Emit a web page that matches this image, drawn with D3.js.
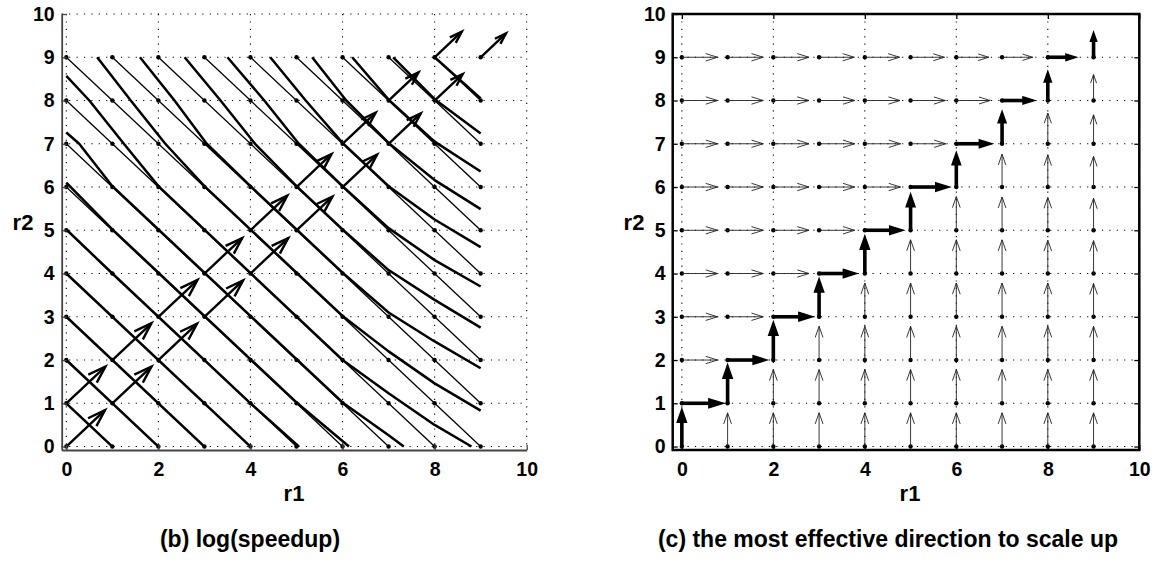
<!DOCTYPE html>
<html lang="en">
<head>
<meta charset="UTF-8">
<title>log(speedup) and scale-up direction</title>
<script src="https://cdn.jsdelivr.net/npm/d3@7"></script>
<style>
  body { margin: 0; background: #fff; }
  svg text { font-family: "Liberation Sans", Arial, sans-serif; font-weight: bold; fill: #000; }
</style>
</head>
<body>
<svg id="fig" width="1153" height="561"></svg>
<script>
// resource levels where the grid points sit
let levels = [0, 1, 2, 3, 4, 5, 6, 7, 8, 9];
let xTicks = [0, 2, 4, 6, 8, 10];
let yTicks = [0, 1, 2, 3, 4, 5, 6, 7, 8, 9, 10];

// thin lines: r1 + r2 = k
let isoCost = [1, 2, 3, 4, 5, 6, 7, 8, 9, 10, 11, 12, 13, 14, 15, 16, 17];

// thick lines: log(speedup) contours
let contours = [
  [[0, 1], [1, 0]],
  [[0, 2], [2, 0]],
  [[0, 3], [3, 0]],
  [[0, 4], [4, 0]],
  [[0, 5.02], [1, 4.0], [4, 1.0], [5.05, 0]],
  [[0, 6.1], [1, 5.02], [5, 1.02], [6.14, 0]],
  [[0, 7.26], [0.28, 7], [1, 6.02], [6, 1.02], [7, 0.26], [7.33, 0]],
  [[0, 8.57], [0.5, 8], [1.25, 7], [2, 6.02], [6, 2.0], [7, 1.23], [8, 0.5], [8.8, 0]],
  [[0.67, 9], [1.4, 8], [2.15, 7], [3, 6.02], [6, 3.02], [7, 2.2], [8, 1.46], [9, 0.83]],
  [[1.6, 9], [2.35, 8], [3.05, 7], [4, 6.02], [6, 4.02], [7, 3.1], [8, 2.43], [9, 1.81]],
  [[2.57, 9], [3.35, 8], [4.1, 7], [5, 6.02], [6, 5.02], [7, 4.08], [8, 3.39], [9, 2.75]],
  [[3.5, 9], [4.3, 8], [5.05, 7], [6, 6.02], [7, 5.05], [8, 4.31], [9, 3.7]],
  [[4.43, 9], [5.2, 8], [6, 7.02], [7, 6.02], [8, 5.25], [9, 4.61]],
  [[5.34, 9], [6.08, 8], [7, 7.02], [8, 6.16], [9, 5.49]],
  [[6.21, 9], [7, 8.02], [8, 7.05], [9, 6.36]],
  [[7.1, 9], [8, 8.03], [9, 7.24]],
  [[8, 9], [9, 8.05]]
];

// the scale-up path (bold arrows)
let stepR1 = [0, 0, 1, 1, 2, 2, 3, 3, 4, 4, 5, 5, 6, 6, 7, 7, 8, 8, 9];
let stepR2 = [0, 1, 1, 2, 2, 3, 3, 4, 4, 5, 5, 6, 6, 7, 7, 8, 8, 9, 9];
let stepDir = ["up", "right", "up", "right", "up", "right", "up", "right", "up", "right",
               "up", "right", "up", "right", "up", "right", "up", "right", "up"];
// arrow lengths in (b) (equal r1 and r2 parts) and in (c)
let diagLen = [0.84, 0.85, 0.85, 0.85, 0.84, 0.85, 0.84, 0.82, 0.82, 0.8,
               0.78, 0.76, 0.75, 0.72, 0.7, 0.65, 0.61, 0.59, 0.55];
let stepLen = [0.85, 0.89, 0.87, 0.84, 0.86, 0.84, 0.86, 0.8, 0.85, 0.82,
               0.82, 0.83, 0.78, 0.76, 0.73, 0.69, 0.65, 0.6, 0.56];
// thin arrow length in (c), by r1 + r2
let thinLen = [0.78, 0.78, 0.78, 0.78, 0.78, 0.78, 0.78, 0.78, 0.78, 0.78,
               0.78, 0.78, 0.77, 0.76, 0.74, 0.71, 0.67, 0.6, 0.55];

let svg = d3.select("#fig");
svg.append("rect").attr("width", 1153).attr("height", 561).attr("fill", "#fff");

// quiver-style arrow: shaft plus two barbs (MATLAB head size 0.33)
function arrowGeom(x, y, u, v, sx, sy) {
    let a = 0.33, b = 0.33;
    let tx = x + u, ty = y + v;
    return {
        base: [sx(x), sy(y)],
        tip: [sx(tx), sy(ty)],
        neck: [sx(tx - a * u), sy(ty - a * v)],
        h1: [sx(tx - a * (u + b * v)), sy(ty - a * (v - b * u))],
        h2: [sx(tx - a * (u - b * v)), sy(ty - a * (v + b * u))]
    };
}

function drawGrid(g, sx, sy) {
    g.selectAll(".gx").data(xTicks).join("line")
        .attr("x1", d => sx(d)).attr("x2", d => sx(d))
        .attr("y1", sy(10)).attr("y2", sy.range()[0])
        .attr("stroke", "#000").attr("stroke-width", 1.1).attr("stroke-dasharray", "1.2,6.2");
    g.selectAll(".gy").data(yTicks).join("line")
        .attr("y1", d => sy(d)).attr("y2", d => sy(d))
        .attr("x1", sx.range()[0]).attr("x2", sx(10))
        .attr("stroke", "#000").attr("stroke-width", 1.1).attr("stroke-dasharray", "1.2,6.2");
}

function drawAxes(g, sx, sy, color, width) {
    let ax = g.append("g").attr("transform", `translate(0,${sy.range()[0]})`)
        .call(d3.axisBottom(sx).tickValues(xTicks).tickSize(-5).tickSizeOuter(0).tickPadding(12));
    let ay = g.append("g").attr("transform", `translate(${sx.range()[0]},0)`)
        .call(d3.axisLeft(sy).tickValues(yTicks).tickSize(-5).tickSizeOuter(0).tickPadding(7));
    [ax, ay].forEach(a => {
        a.attr("font-family", null).attr("font-size", null);
        a.select(".domain").attr("stroke", color).attr("stroke-width", width);
        a.selectAll(".tick line").attr("stroke", color).attr("stroke-width", 1.3);
        a.selectAll(".tick text").style("font-size", "19.5px");
    });
}

function dots(g, sx, sy) {
    let pts = [];
    levels.forEach(i => levels.forEach(j => pts.push([i, j])));
    g.selectAll(".dot").data(pts).join("circle")
        .attr("cx", d => sx(d[0])).attr("cy", d => sy(d[1])).attr("r", 2.2).attr("fill", "#000");
}

// ---------------- (b) log(speedup) ----------------
let xL = d3.scaleLinear().domain([-0.1, 10]).range([61.7, 526.7]);
let yL = d3.scaleLinear().domain([-0.08, 10]).range([450, 14]);
let gL = svg.append("g");
drawGrid(gL, xL, yL);

let lineL = d3.line().x(d => xL(d[0])).y(d => yL(d[1]));
gL.selectAll(".iso").data(isoCost).join("path")
    .attr("d", k => lineL([[Math.max(0, k - 9), Math.min(k, 9)], [Math.min(k, 9), Math.max(0, k - 9)]]))
    .attr("fill", "none").attr("stroke", "#000").attr("stroke-width", 1.3);
gL.selectAll(".cont").data(contours).join("path")
    .attr("d", lineL)
    .attr("fill", "none").attr("stroke", "#000").attr("stroke-width", 2.5)
    .attr("stroke-linejoin", "round");
dots(gL, xL, yL);

let diag = stepR1.map((r1, i) => arrowGeom(r1, stepR2[i], diagLen[i], diagLen[i], xL, yL));
gL.selectAll(".qs").data(diag).join("line")
    .attr("x1", d => d.base[0]).attr("y1", d => d.base[1])
    .attr("x2", d => d.tip[0]).attr("y2", d => d.tip[1])
    .attr("stroke", "#000").attr("stroke-width", 2.4);
gL.selectAll(".qh").data(diag).join("polyline")
    .attr("points", d => [d.h1, d.tip, d.h2].map(p => p.join(",")).join(" "))
    .attr("fill", "none").attr("stroke", "#000").attr("stroke-width", 2.4)
    .attr("stroke-linejoin", "miter");

drawAxes(gL, xL, yL, "#444", 1.8);

// ---------------- (c) most effective direction ----------------
let xR = d3.scaleLinear().domain([-0.2, 10]).range([672.7, 1139.3]);
let yR = d3.scaleLinear().domain([-0.08, 10]).range([450, 14]);
let gR = svg.append("g");
drawGrid(gR, xR, yR);
dots(gR, xR, yR);

let onPath = new Set(stepR1.map((r1, i) => r1 + "," + stepR2[i]));
let thin = [];
levels.forEach(i => levels.forEach(j => {
    if (onPath.has(i + "," + j)) return;
    let L = thinLen[i + j];
    thin.push(j > i ? arrowGeom(i, j, L, 0, xR, yR) : arrowGeom(i, j, 0, L, xR, yR));
}));
gR.selectAll(".ts").data(thin).join("line")
    .attr("x1", d => d.base[0]).attr("y1", d => d.base[1])
    .attr("x2", d => d.tip[0]).attr("y2", d => d.tip[1])
    .attr("stroke", "#222").attr("stroke-width", 0.9);
gR.selectAll(".th").data(thin).join("polyline")
    .attr("points", d => [d.h1, d.tip, d.h2].map(p => p.join(",")).join(" "))
    .attr("fill", "none").attr("stroke", "#222").attr("stroke-width", 0.9);

let bold = stepR1.map((r1, i) => stepDir[i] === "up"
    ? arrowGeom(r1, stepR2[i], 0, stepLen[i], xR, yR)
    : arrowGeom(r1, stepR2[i], stepLen[i], 0, xR, yR));
gR.selectAll(".bs").data(bold).join("line")
    .attr("x1", d => d.base[0]).attr("y1", d => d.base[1])
    .attr("x2", d => d.neck[0]).attr("y2", d => d.neck[1])
    .attr("stroke", "#000").attr("stroke-width", 3.6);
gR.selectAll(".bh").data(bold).join("polygon")
    .attr("points", d => [d.h1, d.tip, d.h2].map(p => p.join(",")).join(" "))
    .attr("fill", "#000").attr("stroke", "#000").attr("stroke-width", 2)
    .attr("stroke-linejoin", "miter");

drawAxes(gR, xR, yR, "#000", 2.5);
gR.append("g").attr("transform", `translate(0,${yR(10)})`)
    .call(d3.axisTop(xR).tickValues(xTicks).tickSize(-5).tickSizeOuter(0).tickFormat(""))
    .call(a => a.selectAll("line").attr("stroke-width", 1.3));
gR.append("g").attr("transform", `translate(${xR(10)},0)`)
    .call(d3.axisRight(yR).tickValues(yTicks).tickSize(-5).tickSizeOuter(0).tickFormat(""))
    .call(a => a.selectAll("line").attr("stroke-width", 1.3));
gR.selectAll(".domain").attr("stroke", "none");
gR.append("rect")
    .attr("x", xR.range()[0]).attr("y", yR(10))
    .attr("width", xR(10) - xR.range()[0]).attr("height", yR.range()[0] - yR(10))
    .attr("fill", "none").attr("stroke", "#000").attr("stroke-width", 2.5);

// ---------------- labels ----------------
svg.append("text").attr("x", 294).attr("y", 501).attr("text-anchor", "middle")
    .style("font-size", "22px").text("r1");
svg.append("text").attr("x", 910).attr("y", 501).attr("text-anchor", "middle")
    .style("font-size", "22px").text("r1");
svg.append("text").attr("x", 23).attr("y", 230).attr("text-anchor", "middle")
    .style("font-size", "22px").text("r2");
svg.append("text").attr("x", 634).attr("y", 230).attr("text-anchor", "middle")
    .style("font-size", "22px").text("r2");
svg.append("text").attr("x", 250).attr("y", 547).attr("text-anchor", "middle")
    .style("font-size", "23px").text("(b) log(speedup)");
svg.append("text").attr("x", 888).attr("y", 547).attr("text-anchor", "middle")
    .style("font-size", "23px").text("(c) the most effective direction to scale up");
</script>
</body>
</html>
